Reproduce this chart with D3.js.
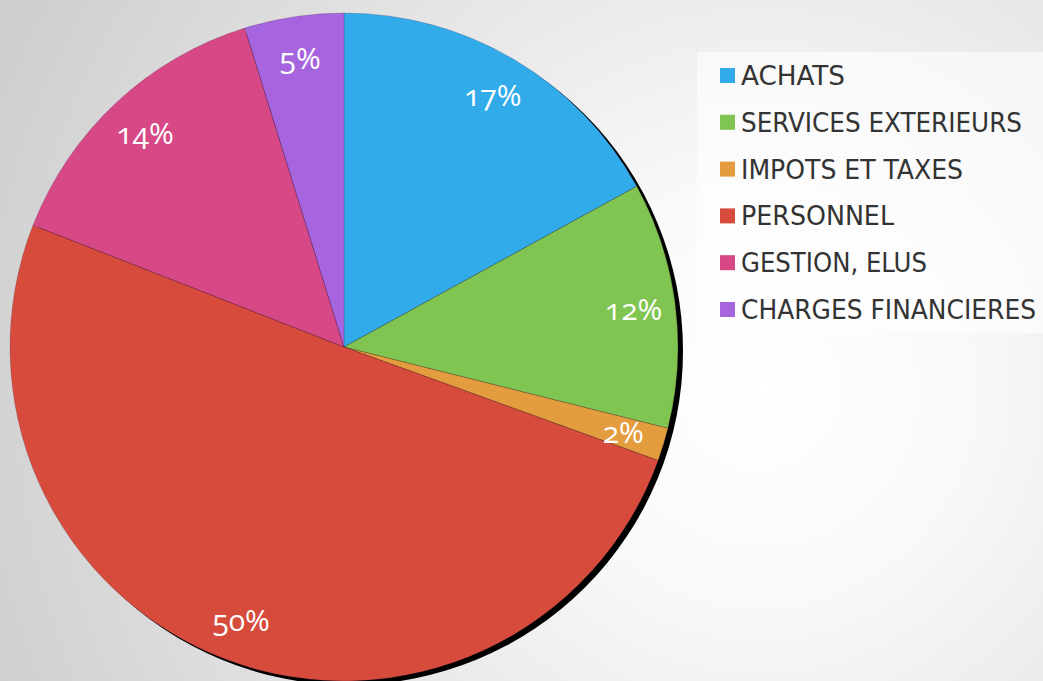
<!DOCTYPE html>
<html>
<head>
<meta charset="utf-8">
<script src="https://cdn.jsdelivr.net/npm/d3@7"></script>
<style>
  html, body { margin: 0; padding: 0; overflow: hidden; }
  #chart { width: 1043px; height: 681px; }
  .pct { font-feature-settings: "onum" 1; }
</style>
</head>
<body>
<div id="chart"></div>
<script>
// données
const categories = ["ACHATS", "SERVICES EXTERIEURS", "IMPOTS ET TAXES", "PERSONNEL", "GESTION, ELUS", "CHARGES FINANCIERES"];
const values = [17.0, 11.9, 1.6, 50.4, 14.25, 4.8];
const labels = ["17%", "12%", "2%", "50%", "14%", "5%"];
const colors = ["#31abea", "#80c451", "#e49d3e", "#d74b3c", "#d64886", "#a664de"];
const legendWidths = [104, 281, 222, 153, 186, 295];

const width = 1043, height = 681;
const cx = 344, cy = 347, radius = 334;

const svg = d3.select('#chart').append('svg')
    .attr('width', width)
    .attr('height', height);

// fond dégradé
const defs = svg.append('defs');
const grad = defs.append('radialGradient')
    .attr('id', 'bg')
    .attr('gradientUnits', 'userSpaceOnUse')
    .attr('cx', 760).attr('cy', 390).attr('r', 820);
grad.append('stop').attr('offset', '0%').attr('stop-color', '#ffffff');
grad.append('stop').attr('offset', '25%').attr('stop-color', '#f9f9f9');
grad.append('stop').attr('offset', '100%').attr('stop-color', '#cfcfcf');

svg.append('rect')
    .attr('width', width).attr('height', height)
    .attr('fill', 'url(#bg)');

const pie = d3.pie().sort(null).value(d => d);
const arcs = pie(values);
const arc = d3.arc().innerRadius(0).outerRadius(radius);
const labelArc = d3.arc().innerRadius(292).outerRadius(292);

const g = svg.append('g').attr('transform', `translate(${cx},${cy})`);

// ombre noire
g.append('circle')
    .attr('cx', 5).attr('cy', 4)
    .attr('r', radius)
    .attr('fill', '#000');

g.selectAll('path.slice')
    .data(arcs)
    .enter()
    .append('path')
    .attr('class', 'slice')
    .attr('d', arc)
    .attr('fill', (d, i) => colors[i])
    .attr('stroke', 'rgba(60,30,60,0.35)')
    .attr('stroke-width', 0.6);

g.selectAll('text.pct')
    .data(arcs)
    .enter()
    .append('text')
    .attr('class', 'pct')
    .attr('transform', d => `translate(${labelArc.centroid(d)})`)
    .attr('text-anchor', 'middle')
    .attr('dy', '0.35em')
    .attr('font-family', '"Open Sans", sans-serif')
    .attr('font-size', '30px')
    .attr('fill', '#fff')
    .text((d, i) => labels[i]);

// légende
const legend = svg.append('g');
legend.append('rect')
    .attr('x', 697).attr('y', 52)
    .attr('width', 360).attr('height', 281)
    .attr('fill', 'rgba(255,255,255,0.6)');

const rowY = d3.scalePoint().domain(categories).range([85, 319]);

const item = legend.selectAll('g.item')
    .data(categories)
    .enter()
    .append('g')
    .attr('class', 'item');

item.append('rect')
    .attr('x', 720)
    .attr('y', d => rowY(d) - 17)
    .attr('width', 15).attr('height', 15)
    .attr('fill', (d, i) => colors[i]);

item.append('text')
    .attr('x', 741)
    .attr('y', d => rowY(d))
    .attr('font-family', '"DejaVu Sans Condensed", "DejaVu Sans", sans-serif')
    .attr('font-size', '26px')
    .attr('fill', '#333')
    .attr('textLength', (d, i) => legendWidths[i])
    .attr('lengthAdjust', 'spacingAndGlyphs')
    .text(d => d);
</script>
</body>
</html>
